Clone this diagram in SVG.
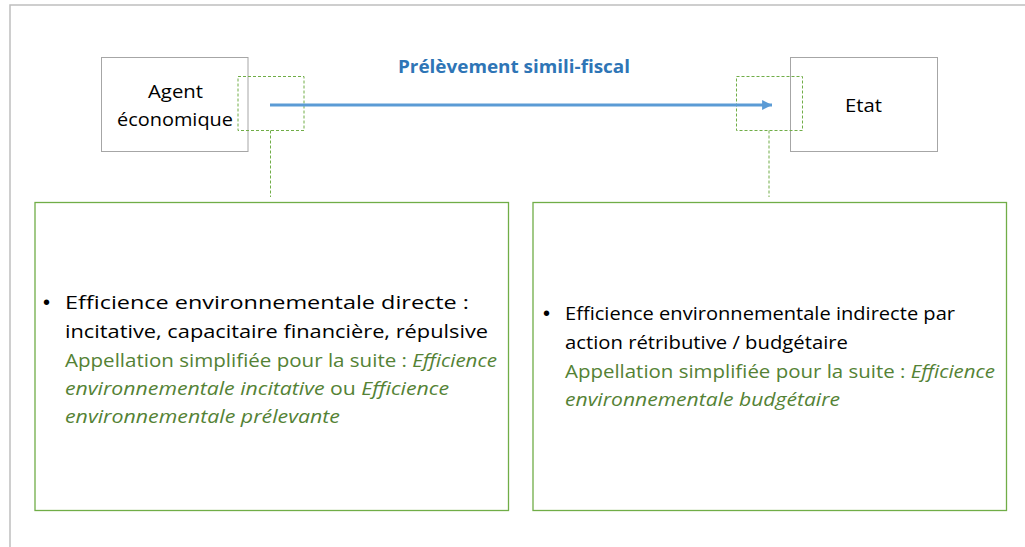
<svg xmlns="http://www.w3.org/2000/svg" width="1025" height="547" viewBox="0 0 1025 547">
<style>
.t{font-family:"Open Sans","Liberation Sans",sans-serif;font-size:19px;fill:#000}
.b{font-family:"Liberation Sans",sans-serif;font-size:20px;fill:#000}
.g{fill:#548235}
.i{font-style:italic}
.node{fill:#fff;stroke:#a6a6a6;stroke-width:1}
.panel{fill:#fff;stroke:#70ad47;stroke-width:1.3}
.dash{fill:none;stroke:#70ad47;stroke-width:1;stroke-dasharray:3 2}
</style>
<defs>
<marker id="ah" viewBox="0 0 10 10" refX="10" refY="5" markerWidth="3.3" markerHeight="3.3" orient="auto" markerUnits="strokeWidth">
<path d="M0,0 L10,5 L0,10 z" fill="#5b9bd5"/>
</marker>
</defs>
<rect x="0" y="0" width="1025" height="547" fill="#fff"/>
<path d="M10,547 V5 H1025" fill="none" stroke="#bfbfbf" stroke-width="1.5"/>

<g id="agent">
<rect class="node" x="101.5" y="57.5" width="146.5" height="94"/>
<text class="t" text-anchor="middle" x="175.5" y="98" textLength="55" lengthAdjust="spacingAndGlyphs">Agent</text>
<text class="t" text-anchor="middle" x="175" y="126" textLength="116" lengthAdjust="spacingAndGlyphs">économique</text>
</g>
<g id="etat">
<rect class="node" x="790.5" y="57.5" width="147" height="94"/>
<text class="t" text-anchor="middle" x="863.5" y="112" textLength="37" lengthAdjust="spacingAndGlyphs">Etat</text>
</g>

<g id="panel-left">
<rect class="panel" x="35" y="202.5" width="473.5" height="308"/>
<text class="b" x="43" y="309">•</text>
<text class="t" x="65" y="309" textLength="404" lengthAdjust="spacingAndGlyphs">Efficience environnementale directe :</text>
<text class="t" x="65" y="338" textLength="423" lengthAdjust="spacingAndGlyphs">incitative, capacitaire financière, répulsive</text>
<text class="t g" x="65" y="367" textLength="432" lengthAdjust="spacingAndGlyphs">Appellation simplifiée pour la suite : <tspan class="i">Efficience</tspan></text>
<text class="t g" x="65" y="395" textLength="384" lengthAdjust="spacingAndGlyphs"><tspan class="i">environnementale incitative</tspan> ou <tspan class="i">Efficience</tspan></text>
<text class="t g i" x="65" y="423" textLength="275" lengthAdjust="spacingAndGlyphs">environnementale prélevante</text>
</g>

<g id="panel-right">
<rect class="panel" x="533" y="202.5" width="473.5" height="308"/>
<text class="b" x="543" y="320">•</text>
<text class="t" x="565" y="320" textLength="390" lengthAdjust="spacingAndGlyphs">Efficience environnementale indirecte par</text>
<text class="t" x="565" y="349" textLength="283" lengthAdjust="spacingAndGlyphs">action rétributive / budgétaire</text>
<text class="t g" x="565" y="378" textLength="430" lengthAdjust="spacingAndGlyphs">Appellation simplifiée pour la suite : <tspan class="i">Efficience</tspan></text>
<text class="t g i" x="565" y="406" textLength="275" lengthAdjust="spacingAndGlyphs">environnementale budgétaire</text>
</g>

<g id="connectors">
<rect class="dash" x="238" y="76.5" width="66" height="54"/>
<rect class="dash" x="736.5" y="76.5" width="66" height="54"/>
<line class="dash" x1="270.5" y1="130.5" x2="270.5" y2="197"/>
<line class="dash" x1="769" y1="130.5" x2="769" y2="197" stroke="#a9d18e"/>
<line x1="270" y1="105" x2="772" y2="105" stroke="#5b9bd5" stroke-width="3" marker-end="url(#ah)"/>
<text x="514" y="73" text-anchor="middle" font-family="Open Sans, Liberation Sans, sans-serif" font-weight="bold" font-size="17.5px" fill="#2e75b6" textLength="232" lengthAdjust="spacingAndGlyphs">Prélèvement simili-fiscal</text>
</g>
</svg>
